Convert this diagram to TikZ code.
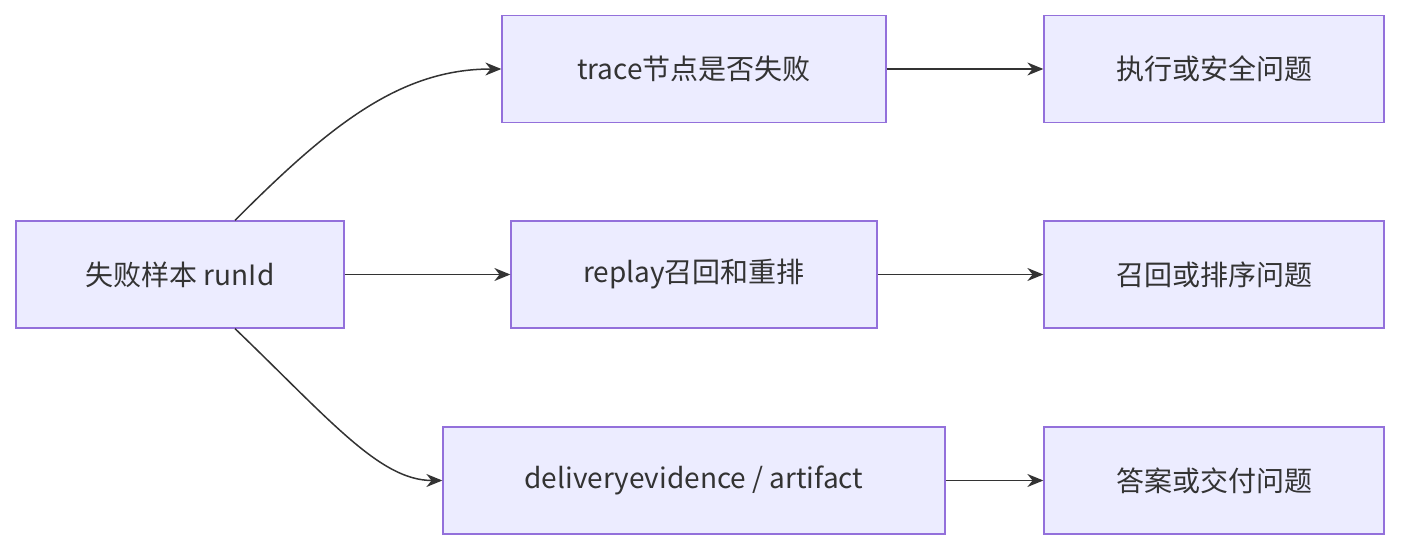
\documentclass[tikz,border=0pt]{standalone}
\usepackage{fontspec}
\setmainfont{Noto Sans CJK SC}
\usetikzlibrary{arrows.meta}
\definecolor{boxfill}{HTML}{ECECFF}
\definecolor{boxline}{HTML}{9370DB}
\definecolor{edge}{HTML}{333333}
\tikzset{
 box/.style={draw=boxline, fill=boxfill, line width=1.3pt, minimum height=107pt, inner sep=0pt, font=\fontsize{28}{32}\selectfont, text=edge},
 link/.style={draw=edge, line width=1.5pt, -{Stealth[length=16pt,width=13pt]}}
}
\begin{document}
\begin{tikzpicture}[x=1pt,y=-1pt]
\useasboundingbox (0,0) rectangle (1416,556);
\node[box, minimum width=328pt] (sample) at (180,274.5) {失败样本 runId};
\node[box, minimum width=384pt] (trace) at (694,69) {trace节点是否失败};
\node[box, minimum width=366pt] (replay) at (694,274.5) {replay召回和重排};
\node[box, minimum width=502pt] (deliv) at (694,480.5) {deliveryevidence / artifact};
\node[box, minimum width=340pt] (exec) at (1214,69) {执行或安全问题};
\node[box, minimum width=340pt] (recall) at (1214,274.5) {召回或排序问题};
\node[box, minimum width=340pt] (answer) at (1214,480.5) {答案或交付问题};
% edges
\draw[link] ([xshift=55pt]sample.north) .. controls (330,125) and (400,69) .. (trace.west);
\draw[link] (sample.east) -- (replay.west);
\draw[link] ([xshift=55pt]sample.south) .. controls (330,420) and (380,480.5) .. (deliv.west);
\draw[link] (trace.east) -- (exec.west);
\draw[link] (replay.east) -- (recall.west);
\draw[link] (deliv.east) -- (answer.west);
\end{tikzpicture}
\end{document}
